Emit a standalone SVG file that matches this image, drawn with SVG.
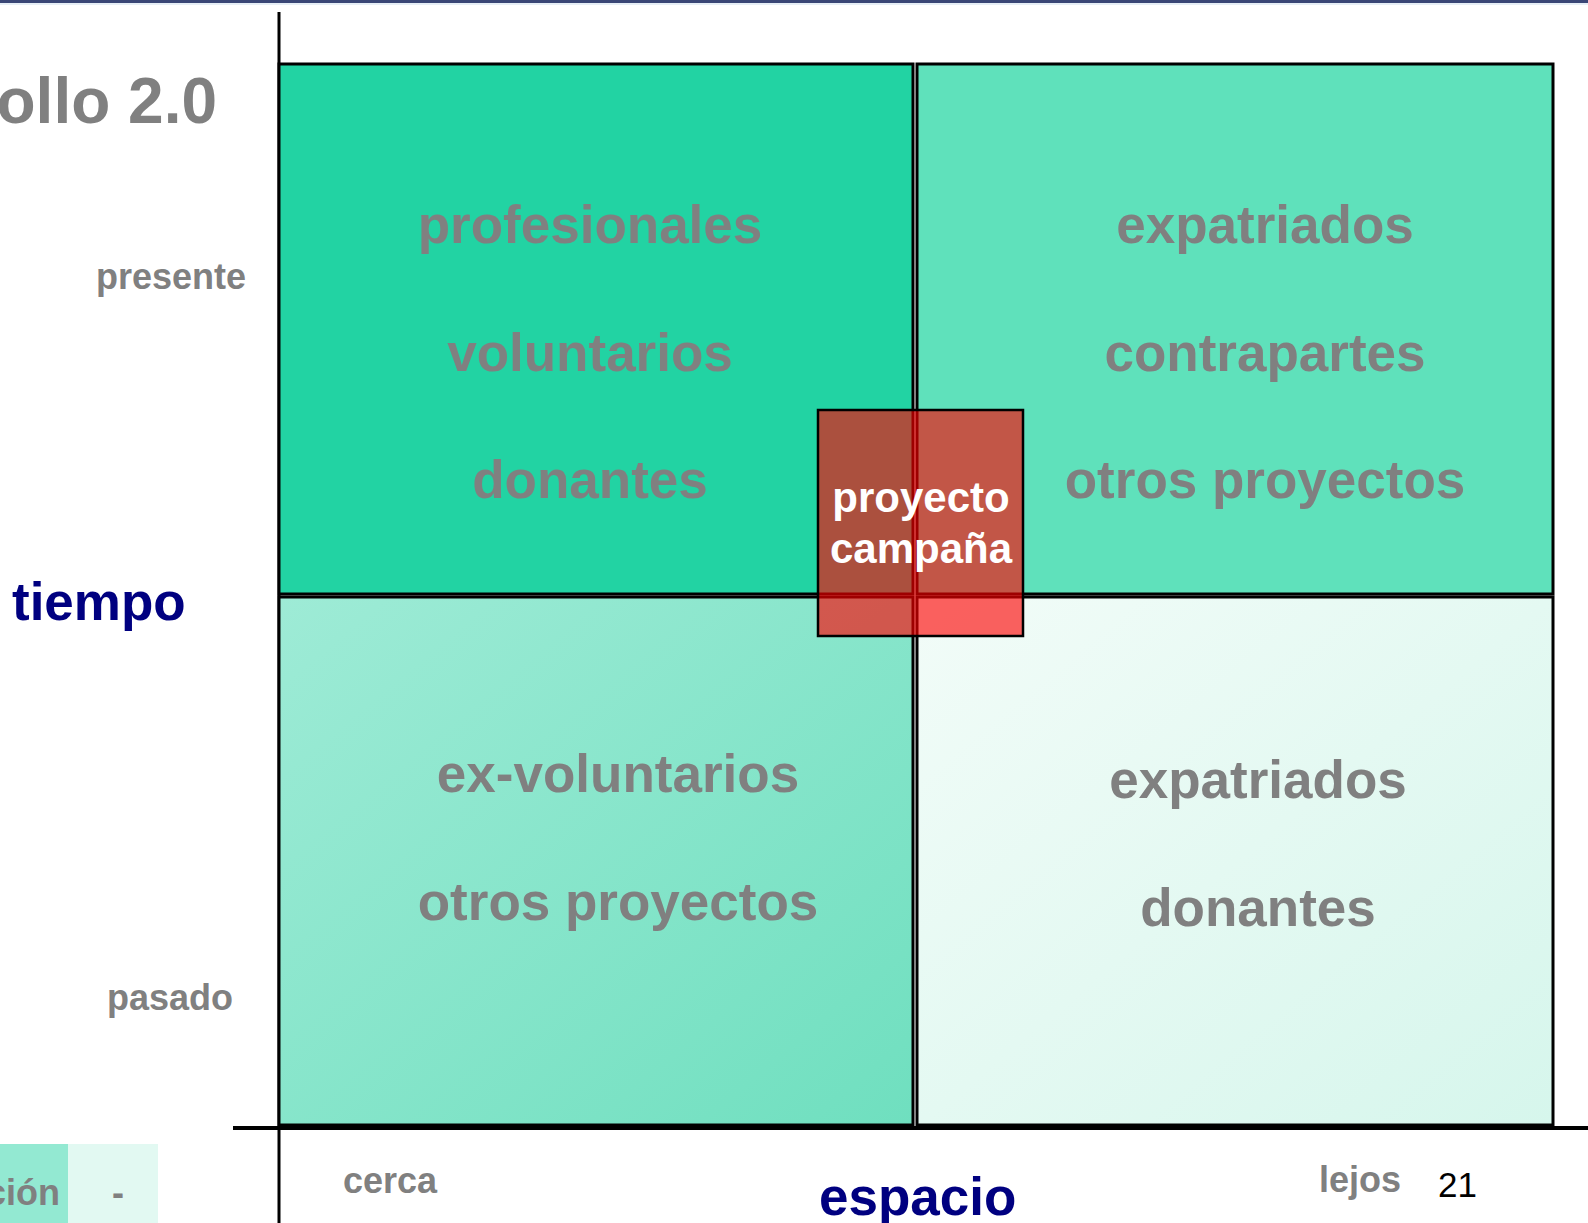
<svg xmlns="http://www.w3.org/2000/svg" width="1588" height="1223" viewBox="0 0 1588 1223">
<style>
.q{stroke:#000;stroke-width:3}
.g{font-family:"Liberation Sans",Arial,sans-serif;font-weight:bold;fill:#808080}
.big{font-size:53px;text-anchor:middle}
.sm{font-size:36px}
.navy{font-family:"Liberation Sans",Arial,sans-serif;font-weight:bold;fill:#000080;font-size:53px}
</style>
<defs>
<linearGradient id="gbl" x1="0" y1="0" x2="1" y2="1">
<stop offset="0" stop-color="#9eebd6"/>
<stop offset="1" stop-color="#6fdfbf"/>
</linearGradient>
<linearGradient id="gbr" x1="0" y1="0" x2="1" y2="1">
<stop offset="0" stop-color="#f2fcf8"/>
<stop offset="1" stop-color="#d6f6ec"/>
</linearGradient>
</defs>
<rect width="1588" height="1223" fill="#fff"/>
<rect x="0" y="0" width="1588" height="3" fill="#3a4676"/>
<rect x="0" y="3" width="1588" height="2" fill="#e6eef6"/>

<g id="axes">
<line x1="279" y1="12" x2="279" y2="1223" stroke="#000" stroke-width="3"/>
<line x1="233" y1="1128" x2="1588" y2="1128" stroke="#000" stroke-width="4"/>
</g>

<g id="q-tl">
<rect class="q" x="279" y="64" width="634" height="530" fill="#22d3a3"/>
<text class="g big" x="590" y="243">profesionales</text>
<text class="g big" x="590" y="371">voluntarios</text>
<text class="g big" x="590" y="498">donantes</text>
</g>
<g id="q-tr">
<rect class="q" x="917" y="64" width="636" height="530" fill="#5fe1bb"/>
<text class="g big" x="1265" y="243">expatriados</text>
<text class="g big" x="1265" y="371">contrapartes</text>
<text class="g big" x="1265" y="498">otros proyectos</text>
</g>
<g id="q-bl">
<rect class="q" x="279" y="597" width="634" height="528" fill="url(#gbl)"/>
<text class="g big" x="618" y="792">ex-voluntarios</text>
<text class="g big" x="618" y="920">otros proyectos</text>
</g>
<g id="q-br">
<rect class="q" x="917" y="597" width="636" height="528" fill="url(#gbr)"/>
<text class="g big" x="1258" y="798">expatriados</text>
<text class="g big" x="1258" y="926">donantes</text>
</g>

<g id="proyecto">
<rect x="818" y="410" width="205" height="226" fill="#ff0000" fill-opacity="0.62" stroke="#000" stroke-width="2.5"/>
<text x="921" y="512" font-family="Liberation Sans,Arial,sans-serif" font-weight="bold" font-size="42" fill="#fff" text-anchor="middle">proyecto</text>
<text x="921" y="563" font-family="Liberation Sans,Arial,sans-serif" font-weight="bold" font-size="42" fill="#fff" text-anchor="middle">campaña</text>
</g>

<g id="labels">
<text class="g" x="217" y="123" font-size="64" text-anchor="end">ollo 2.0</text>
<text class="g sm" x="246" y="289" text-anchor="end">presente</text>
<text class="navy" x="12" y="620">tiempo</text>
<text class="g sm" x="233" y="1010" text-anchor="end">pasado</text>
<text class="g sm" x="343" y="1193">cerca</text>
<text class="navy" x="819" y="1215">espacio</text>
<text class="g sm" x="1319" y="1192">lejos</text>
<text x="1438" y="1197" font-family="Liberation Sans,Arial,sans-serif" font-size="35" fill="#000">21</text>
</g>

<g id="legend">
<rect x="0" y="1144" width="68" height="79" fill="#93e9d2"/>
<rect x="68" y="1144" width="90" height="79" fill="#e2f9f2"/>
<text class="g sm" x="60" y="1205" text-anchor="end">ción</text>
<text class="g sm" x="118" y="1205" text-anchor="middle">-</text>
</g>
</svg>
